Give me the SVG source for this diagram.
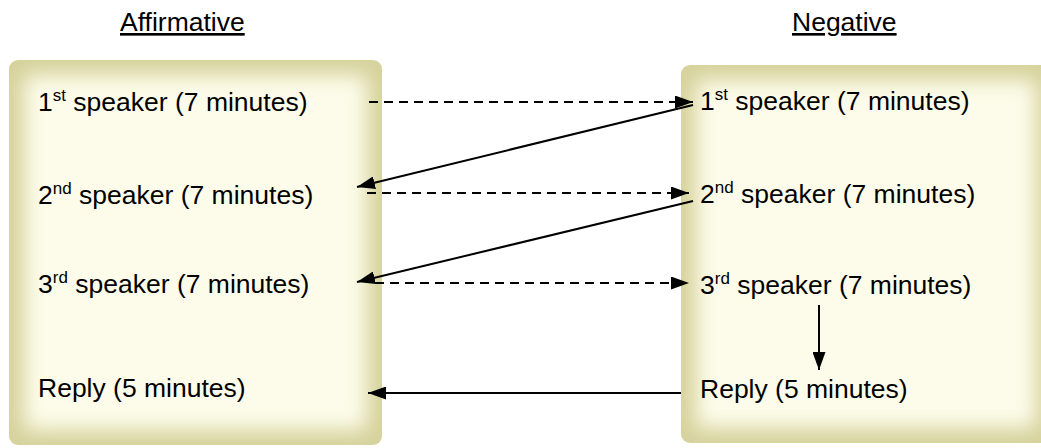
<svg xmlns="http://www.w3.org/2000/svg" width="1041" height="448" viewBox="0 0 1041 448">
<style>
text{font-family:"Liberation Sans",Arial,sans-serif;font-size:26.5px;fill:#000}
.sup{font-size:17px}
.hdr{text-decoration:underline}
.ln{stroke:#000;stroke-width:2;fill:none}
.dash{stroke-dasharray:9 6}
.outer{fill:#d6d29c}
.inner{fill:#fdfcea;filter:url(#blur)}
</style>
<defs>
<filter id="blur" x="-10%" y="-10%" width="120%" height="120%"><feGaussianBlur stdDeviation="10"/></filter>
<marker id="ah" viewBox="0 0 18 13" refX="18" refY="6.5" markerWidth="18" markerHeight="13" markerUnits="userSpaceOnUse" orient="auto"><path d="M0,0 L18,6.5 L0,13 Z" fill="#000"/></marker>
</defs>
<text class="hdr" x="120" y="31">Affirmative</text>
<text class="hdr" x="792" y="31">Negative</text>
<g id="affirmative">
<rect class="outer" x="9" y="60" width="373" height="385" rx="9"/>
<rect class="inner" x="24" y="75" width="343" height="355" rx="6"/>
<text x="38" y="111">1<tspan class="sup" dy="-10">st</tspan><tspan dy="10"> speaker (7 minutes)</tspan></text>
<text x="38" y="204">2<tspan class="sup" dy="-10">nd</tspan><tspan dy="10"> speaker (7 minutes)</tspan></text>
<text x="38" y="293">3<tspan class="sup" dy="-10">rd</tspan><tspan dy="10"> speaker (7 minutes)</tspan></text>
<text x="38" y="397">Reply (5 minutes)</text>
</g>
<g id="negative">
<rect class="outer" x="681" y="65" width="370" height="378" rx="9"/>
<rect class="inner" x="696" y="80" width="340" height="348" rx="6"/>
<text x="700" y="110">1<tspan class="sup" dy="-10">st</tspan><tspan dy="10"> speaker (7 minutes)</tspan></text>
<text x="700" y="203">2<tspan class="sup" dy="-10">nd</tspan><tspan dy="10"> speaker (7 minutes)</tspan></text>
<text x="700" y="294">3<tspan class="sup" dy="-10">rd</tspan><tspan dy="10"> speaker (7 minutes)</tspan></text>
<text x="700" y="398">Reply (5 minutes)</text>
</g>
<g id="connectors">
<line class="ln dash" x1="369" y1="102" x2="693" y2="102" marker-end="url(#ah)"/>
<line class="ln" x1="693" y1="105" x2="357" y2="187" marker-end="url(#ah)"/>
<line class="ln dash" x1="367" y1="193" x2="689" y2="193" marker-end="url(#ah)"/>
<line class="ln" x1="693" y1="201" x2="357" y2="282" marker-end="url(#ah)"/>
<line class="ln dash" x1="375" y1="283" x2="689" y2="283" marker-end="url(#ah)"/>
<line class="ln" x1="819" y1="305" x2="819" y2="370" marker-end="url(#ah)"/>
<line class="ln" x1="681" y1="393" x2="368" y2="393" marker-end="url(#ah)"/>
</g>
</svg>
